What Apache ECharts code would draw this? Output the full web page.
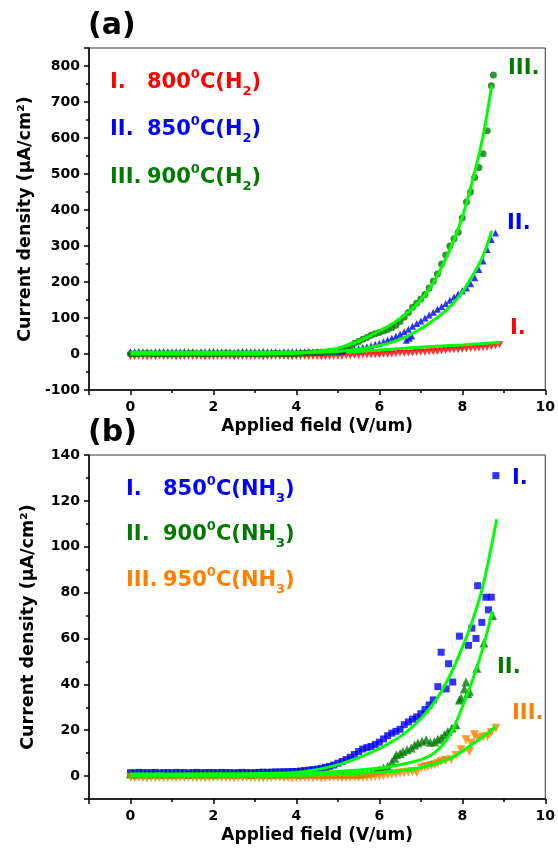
<!DOCTYPE html>
<html>
<head>
<meta charset="utf-8">
<script src="https://cdn.jsdelivr.net/npm/echarts@6/dist/echarts.min.js"></script>
<style>
  html, body { margin: 0; padding: 0; background: #fff; }
  #chart { width: 558px; height: 852px; }
</style>
</head>
<body>
<div id="chart"></div>
<script>
// Field emission J-E curves, (a) H2 annealed, (b) NH3 annealed

// shared field grid for the dense part of panel (a), V/um
const fieldA = [
  0.0, 0.1, 0.2, 0.3, 0.4, 0.5, 0.6, 0.7, 0.8, 0.9,
  1.0, 1.1, 1.2, 1.3, 1.4, 1.5, 1.6, 1.7, 1.8, 1.9,
  2.0, 2.1, 2.2, 2.3, 2.4, 2.5, 2.6, 2.7, 2.8, 2.9,
  3.0, 3.1, 3.2, 3.3, 3.4, 3.5, 3.6, 3.7, 3.8, 3.9,
  4.0, 4.1, 4.2, 4.3, 4.4, 4.5, 4.6, 4.7, 4.8, 4.9,
  5.0, 5.1, 5.2, 5.3, 5.4, 5.5, 5.6, 5.7, 5.8, 5.9,
  6.0, 6.1, 6.2, 6.3, 6.4, 6.5, 6.6, 6.7, 6.8, 6.9,
  7.0, 7.1, 7.2, 7.3, 7.4, 7.5, 7.6, 7.7, 7.8, 7.9,
  8.0, 8.1, 8.2, 8.3, 8.4, 8.5, 8.6, 8.7, 8.8, 8.9
];

// (a) I. 800C (H2), uA/cm2
const h2_800 = [
  -7, -7, -6, -7, -8, -7, -7, -6, -7, -7,
  -7, -8, -7, -7, -6, -7, -7, -7, -8, -7,
  -7, -6, -7, -7, -7, -8, -7, -7, -6, -7,
  -7, -7, -8, -7, -7, -6, -7, -7, -7, -8,
  -7, -7, -6, -7, -7, -7, -8, -7, -7, -6,
  -6, -6, -5, -5, -4, -4, -3, -3, -3, -2,
  -2, -1, -1, 0, 1, 2, 2, 3, 3, 4,
  5, 5, 6, 6, 7, 9, 10, 11, 12, 12,
  13, 14, 15, 16, 17, 18, 19, 21, 23, 26
];
// (a) II. 850C (H2)
const h2_850 = [
  6, 6, 7, 6, 6, 5, 6, 6, 7, 6,
  6, 6, 6, 7, 6, 6, 5, 6, 6, 6,
  7, 6, 6, 6, 6, 5, 6, 7, 6, 6,
  6, 6, 7, 6, 6, 6, 5, 6, 6, 7,
  6, 6, 6, 7, 6, 6, 6, 7, 6, 7,
  7, 8, 10, 11, 13, 15, 18, 20, 23, 27,
  30, 34, 39, 44, 49, 55, 62, 69, 77, 85,
  92, 100, 108, 116, 124, 132, 140, 149, 158, 167,
  176, 183, 195, 212, 235, 258, 290, 318, 336
];
const h2_850_extra = [[6.65, 38], [6.72, 44], [6.78, 50]];
// (a) III. 900C (H2)
const h2_900 = [
  1, 0, 1, 1, 2, 1, 0, 1, 1, 1,
  1, 1, 0, 1, 1, 2, 1, 1, 0, 1,
  1, 1, 1, 2, 1, 0, 1, 1, 1, 1,
  1, 0, 1, 1, 1, 2, 1, 1, 1, 0,
  1, 2, 2, 3, 3, 4, 5, 5, 6, 7,
  8, 12, 17, 23, 30, 35, 41, 46, 52, 56,
  60, 64, 68, 73, 80, 90, 102, 115, 130, 141,
  153, 165, 183, 202, 222, 250, 275, 300, 320, 338,
  378, 422, 450, 490, 518, 556, 620, 745
];
const h2_900_extra = [[8.75, 775]];

// (a) fitted curves
const fitA1x = [5.2, 5.5, 6.0, 6.5, 7.0, 7.5, 8.0, 8.5, 8.9];
const fitA1y = [4, 7, 11, 15, 19, 22, 25, 29, 32];
const fitA2x = [0, 0.5, 1, 1.5, 2, 2.5, 3, 3.5, 4, 4.5, 4.75, 5, 5.25, 5.5, 5.75, 6, 6.25, 6.5, 6.75, 7, 7.25, 7.5, 7.75, 8, 8.25, 8.5, 8.71];
const fitA2y = [5, 5, 5, 5, 5, 5, 5, 5, 5, 5, 6, 7, 9.5, 13, 18, 24, 31, 41, 54, 70, 89, 110, 137, 172, 218, 272, 342];
const fitA3x = [0, 0.5, 1, 1.5, 2, 2.5, 3, 3.5, 4, 4.25, 4.5, 4.75, 5, 5.25, 5.5, 5.75, 6, 6.25, 6.5, 6.75, 7, 7.25, 7.5, 7.75, 8, 8.25, 8.5, 8.71];
const fitA3y = [0, 0, 0, 0, 0, 0, 0, 1, 2, 4, 7, 11, 16, 25, 36, 49, 64, 80, 99, 121, 150, 188, 240, 303, 380, 483, 605, 745];

// shared field grid for the dense part of panel (b)
const fieldB = [
  0.0, 0.1, 0.2, 0.3, 0.4, 0.5, 0.6, 0.7, 0.8, 0.9,
  1.0, 1.1, 1.2, 1.3, 1.4, 1.5, 1.6, 1.7, 1.8, 1.9,
  2.0, 2.1, 2.2, 2.3, 2.4, 2.5, 2.6, 2.7, 2.8, 2.9,
  3.0, 3.1, 3.2, 3.3, 3.4, 3.5, 3.6, 3.7, 3.8, 3.9,
  4.0, 4.1, 4.2, 4.3, 4.4, 4.5, 4.6, 4.7, 4.8, 4.9,
  5.0, 5.1, 5.2, 5.3, 5.4, 5.5, 5.6, 5.7, 5.8, 5.9,
  6.0, 6.1, 6.2, 6.3, 6.4, 6.5, 6.6, 6.7, 6.8, 6.9,
  7.0, 7.1, 7.2, 7.3
];

// (b) I. 850C (NH3)
const nh3_850 = [
  1.5, 1.3, 1.6, 1.5, 1.4, 1.5, 1.6, 1.3, 1.5, 1.5,
  1.4, 1.6, 1.5, 1.5, 1.3, 1.5, 1.6, 1.4, 1.5, 1.5,
  1.5, 1.4, 1.6, 1.5, 1.5, 1.3, 1.5, 1.6, 1.5, 1.4,
  1.5, 1.6, 1.7, 1.6, 1.7, 1.8, 1.8, 1.9, 1.9, 2.0,
  2.0, 2.2, 2.4, 2.6, 2.8, 3.0, 3.4, 3.8, 4.2, 4.8,
  5.6, 6.4, 7.2, 8.2, 9.4, 10.7, 11.8, 12.4, 12.9, 13.8,
  14.8, 16.2, 17.6, 18.7, 19.5, 20.4, 22.4, 23.6, 24.8, 25.8,
  27.2, 29.0, 31.0, 33.2
];
const nh3_850_tail = [
  [7.41, 39], [7.49, 54], [7.61, 38], [7.67, 49], [7.77, 41], [7.93, 61],
  [8.15, 57], [8.23, 64.5], [8.33, 60], [8.37, 83], [8.47, 67], [8.57, 78],
  [8.63, 72.5], [8.70, 78], [8.81, 131]
];
// (b) II. 900C (NH3)
const nh3_900 = [
  0.9, 0.8, 1.0, 0.9, 0.8, 0.9, 1.0, 0.8, 0.9, 0.9,
  0.8, 1.0, 0.9, 0.9, 0.7, 0.9, 1.0, 0.8, 0.9, 0.9,
  0.9, 0.8, 1.0, 0.9, 0.9, 0.7, 0.9, 1.0, 0.9, 0.8,
  0.9, 0.9, 1.0, 0.8, 0.9, 0.9, 1.0, 0.9, 0.8, 1.0,
  0.9, 0.9, 0.8, 1.0, 0.9, 0.9, 1.0, 0.8, 0.9, 0.9,
  0.9, 1.0, 0.8, 0.9, 1.0, 0.9,
  1.0, 1.2, 1.6, 2.2, 2.8, 3.5, 4.3, 6.0
];
const nh3_900_tail = [
  [6.37, 7.8], [6.41, 9.3], [6.5, 9.8], [6.57, 10.7], [6.67, 11.5], [6.77, 12.2],
  [6.85, 13.5], [6.93, 14.4], [7.03, 15.2], [7.13, 15.8], [7.23, 14.8], [7.33, 15],
  [7.41, 16], [7.49, 16.6], [7.57, 18], [7.65, 19.4], [7.75, 21], [7.85, 22.4],
  [7.93, 33.2], [7.97, 34], [8.05, 38], [8.09, 41], [8.13, 36], [8.17, 37],
  [8.35, 47], [8.52, 58], [8.73, 70]
];
// (b) III. 950C (NH3)
const nh3_950 = [
  -0.6, -0.7, -0.5, -0.6, -0.8, -0.6, -0.6, -0.5, -0.7, -0.6,
  -0.6, -0.8, -0.6, -0.6, -0.5, -0.6, -0.7, -0.6, -0.8, -0.6,
  -0.6, -0.5, -0.6, -0.7, -0.6, -0.8, -0.6, -0.6, -0.5, -0.6,
  -0.6, -0.7, -0.8, -0.6, -0.6, -0.5, -0.6, -0.7, -0.6, -0.8,
  -0.6, -0.6, -0.5, -0.6, -0.7, -0.6, -0.8, -0.6, -0.6, -0.5,
  -0.6, -0.7, -0.6, -0.6, -0.5, -0.6,
  -0.5, -0.4, -0.3, -0.2, 0, 0.2, 0.6, 0.8, 1.0, 1.3, 1.5, 1.8, 2.0, 1.6
];
const nh3_950_tail = [
  [7.01, 3.5], [7.1, 4], [7.17, 4.2], [7.25, 4.6], [7.33, 4.9], [7.41, 5.6],
  [7.49, 6.4], [7.6, 6.8], [7.73, 7.1], [7.85, 9], [7.97, 11.5], [8.09, 15.8],
  [8.17, 10.7], [8.21, 14.4], [8.29, 18], [8.37, 16.6], [8.5, 17], [8.61, 17.3],
  [8.7, 19], [8.81, 20.9]
];

// (b) fitted curves
const fitB1x = [0, 0.5, 1, 1.5, 2, 2.5, 3, 3.5, 4, 4.25, 4.5, 4.75, 5, 5.25, 5.5, 5.75, 6, 6.25, 6.5, 6.75, 7, 7.25, 7.5, 7.75, 8, 8.25, 8.5, 8.83];
const fitB1y = [0.8, 0.8, 0.8, 0.8, 0.9, 0.9, 1.0, 1.2, 1.6, 2.1, 2.8, 3.8, 5.0, 6.4, 8.0, 9.9, 12, 14.4, 17.2, 20.7, 25, 30.3, 37, 45.6, 56, 68, 83, 112];
const fitB2x = [0, 0.5, 1, 1.5, 2, 2.5, 3, 3.5, 4, 4.5, 5, 5.5, 6, 6.25, 6.5, 6.75, 7, 7.25, 7.5, 7.75, 8, 8.25, 8.5, 8.73];
const fitB2y = [0.8, 0.8, 0.8, 0.8, 0.8, 0.8, 0.9, 1.0, 1.2, 1.5, 2.0, 2.6, 3.5, 4.1, 4.9, 5.9, 7.2, 9.2, 13, 19.5, 30, 42, 56, 72];
const fitB3x = [0, 0.5, 1, 1.5, 2, 2.5, 3, 3.5, 4, 4.5, 5, 5.5, 6, 6.25, 6.5, 6.75, 7, 7.25, 7.5, 7.75, 8, 8.25, 8.5, 8.81];
const fitB3y = [0.2, 0.2, 0.2, 0.2, 0.2, 0.2, 0.3, 0.3, 0.4, 0.6, 0.8, 1.2, 1.6, 1.9, 2.3, 2.9, 3.7, 4.8, 6.2, 8.0, 10.8, 14, 17.2, 21.6];

const FONT = 'DejaVu Sans';
const RED = '#ff0000';
const BLUE = '#0000ff';
const DKGREEN = '#007a00';
const ORANGE = '#ff7f00';
const FIT = '#00ff00';

const pairs = (xs, ys) => ys.map((y, i) => [xs[i], y]);

const chart = echarts.init(document.getElementById('chart'), null, { renderer: 'canvas' });

const tickStyle = { color: '#000', width: 1.5 };

function xAxisFor(gridIndex) {
  return {
    type: 'value', gridIndex, min: -1, max: 10, splitNumber: 5,
    axisLine: { onZero: false, lineStyle: tickStyle },
    axisTick: { length: 5, lineStyle: tickStyle },
    minorTick: { show: true, splitNumber: 2, length: 3, lineStyle: tickStyle },
    splitLine: { show: false },
    axisLabel: {
      margin: 10, color: '#000', fontSize: 14, fontWeight: 'bold', fontFamily: FONT,
      formatter: v => (v >= 0 && v % 2 === 0 ? String(v) : '')
    },
    name: 'Applied field (V/um)', nameLocation: 'middle', nameGap: 28,
    nameTextStyle: { color: '#000', fontSize: 17, fontWeight: 'bold', fontFamily: FONT }
  };
}

function yAxisFor(gridIndex, min, max, splitNumber, formatter) {
  return {
    type: 'value', gridIndex, min, max, splitNumber,
    axisLine: { onZero: false, lineStyle: tickStyle },
    axisTick: { length: 5, lineStyle: tickStyle },
    minorTick: { show: true, splitNumber: 2, length: 3, lineStyle: tickStyle },
    splitLine: { show: false },
    axisLabel: { margin: 9, color: '#000', fontSize: 14, fontWeight: 'bold', fontFamily: FONT, formatter },
    name: 'Current density (\u03bcA/cm\u00b2)', nameLocation: 'middle', nameGap: 52,
    nameTextStyle: { color: '#000', fontSize: 17.5, fontWeight: 'bold', fontFamily: FONT }
  };
}

function dots(name, g, data, symbol, size, color, rotate) {
  return {
    name, type: 'scatter', xAxisIndex: g, yAxisIndex: g, data,
    symbol, symbolSize: size, symbolRotate: rotate || 0,
    itemStyle: { color }, z: 2, silent: true
  };
}

function fit(g, data) {
  return {
    type: 'line', xAxisIndex: g, yAxisIndex: g, data,
    smooth: 0.3, showSymbol: false,
    lineStyle: { color: FIT, width: 3 }, z: 4, silent: true
  };
}

// rich text for legend rows: number, degree, gas with subscript
function legendRich(color) {
  const base = { fill: color, fontFamily: FONT, fontWeight: 'bold' };
  return {
    n: Object.assign({ fontSize: 21, lineHeight: 30 }, base),
    sup: Object.assign({ fontSize: 13, lineHeight: 20, verticalAlign: 'top' }, base),
    sub: Object.assign({ fontSize: 13, lineHeight: 12, verticalAlign: 'bottom' }, base)
  };
}

function label(text, left, top, color) {
  return {
    type: 'text', left, top, silent: true,
    style: { text, fill: color, font: 'bold 21px "DejaVu Sans"', lineHeight: 30 }
  };
}

function legendRow(num, main, left, top, color) {
  return [
    label(num, left, top, color),
    { type: 'text', left: left + 37, top, silent: true,
      style: { text: main, rich: legendRich(color), font: 'bold 21px "DejaVu Sans"' } }
  ];
}

const option = {
  animation: false,
  backgroundColor: '#fff',
  grid: [
    { left: 89, top: 48, width: 459, height: 342, show: true, borderColor: '#333', borderWidth: 1 },
    { left: 89, top: 455, width: 459, height: 344, show: true, borderColor: '#333', borderWidth: 1 }
  ],
  xAxis: [xAxisFor(0), xAxisFor(1)],
  yAxis: [
    yAxisFor(0, -100, 850, 9, v => (v > 800 ? '' : String(v))),
    yAxisFor(1, -10, 140, 7, v => (v < 0 ? '' : String(v)))
  ],
  series: [
    dots('800H2', 0, pairs(fieldA, h2_800), 'triangle', 7, RED, 180),
    dots('850H2', 0, pairs(fieldA, h2_850).concat(h2_850_extra), 'triangle', 7, BLUE),
    dots('900H2', 0, pairs(fieldA, h2_900).concat(h2_900_extra), 'circle', 7, DKGREEN),
    fit(0, pairs(fitA1x, fitA1y)),
    fit(0, pairs(fitA2x, fitA2y)),
    fit(0, pairs(fitA3x, fitA3y)),
    dots('850NH3', 1, pairs(fieldB, nh3_850).concat(nh3_850_tail), 'rect', 7, BLUE),
    dots('900NH3', 1, pairs(fieldB, nh3_900).concat(nh3_900_tail), 'triangle', 9, DKGREEN),
    dots('950NH3', 1, pairs(fieldB, nh3_950).concat(nh3_950_tail), 'triangle', 9, ORANGE, 180),
    fit(1, pairs(fitB1x, fitB1y)),
    fit(1, pairs(fitB2x, fitB2y)),
    fit(1, pairs(fitB3x, fitB3y))
  ],
  graphic: [
    { type: 'text', left: 88, top: 11, silent: true,
      style: { text: '(a)', fill: '#000', font: 'bold 30px "DejaVu Sans"' } },
    { type: 'text', left: 88, top: 418, silent: true,
      style: { text: '(b)', fill: '#000', font: 'bold 30px "DejaVu Sans"' } },
    ...legendRow('I.', '{n|800}{sup|0}{n|C(H}{sub|2}{n|)}', 110, 68, RED),
    ...legendRow('II.', '{n|850}{sup|0}{n|C(H}{sub|2}{n|)}', 110, 115, BLUE),
    ...legendRow('III.', '{n|900}{sup|0}{n|C(H}{sub|2}{n|)}', 110, 163, DKGREEN),
    label('III.', 508, 54, DKGREEN),
    label('II.', 507, 209, BLUE),
    label('I.', 510, 314, RED),
    ...legendRow('I.', '{n|850}{sup|0}{n|C(NH}{sub|3}{n|)}', 126, 475, BLUE),
    ...legendRow('II.', '{n|900}{sup|0}{n|C(NH}{sub|3}{n|)}', 126, 520, DKGREEN),
    ...legendRow('III.', '{n|950}{sup|0}{n|C(NH}{sub|3}{n|)}', 126, 566, ORANGE),
    label('I.', 512, 464, BLUE),
    label('II.', 497, 653, DKGREEN),
    label('III.', 512, 699, ORANGE)
  ]
};

chart.setOption(option);
</script>
</body>
</html>
